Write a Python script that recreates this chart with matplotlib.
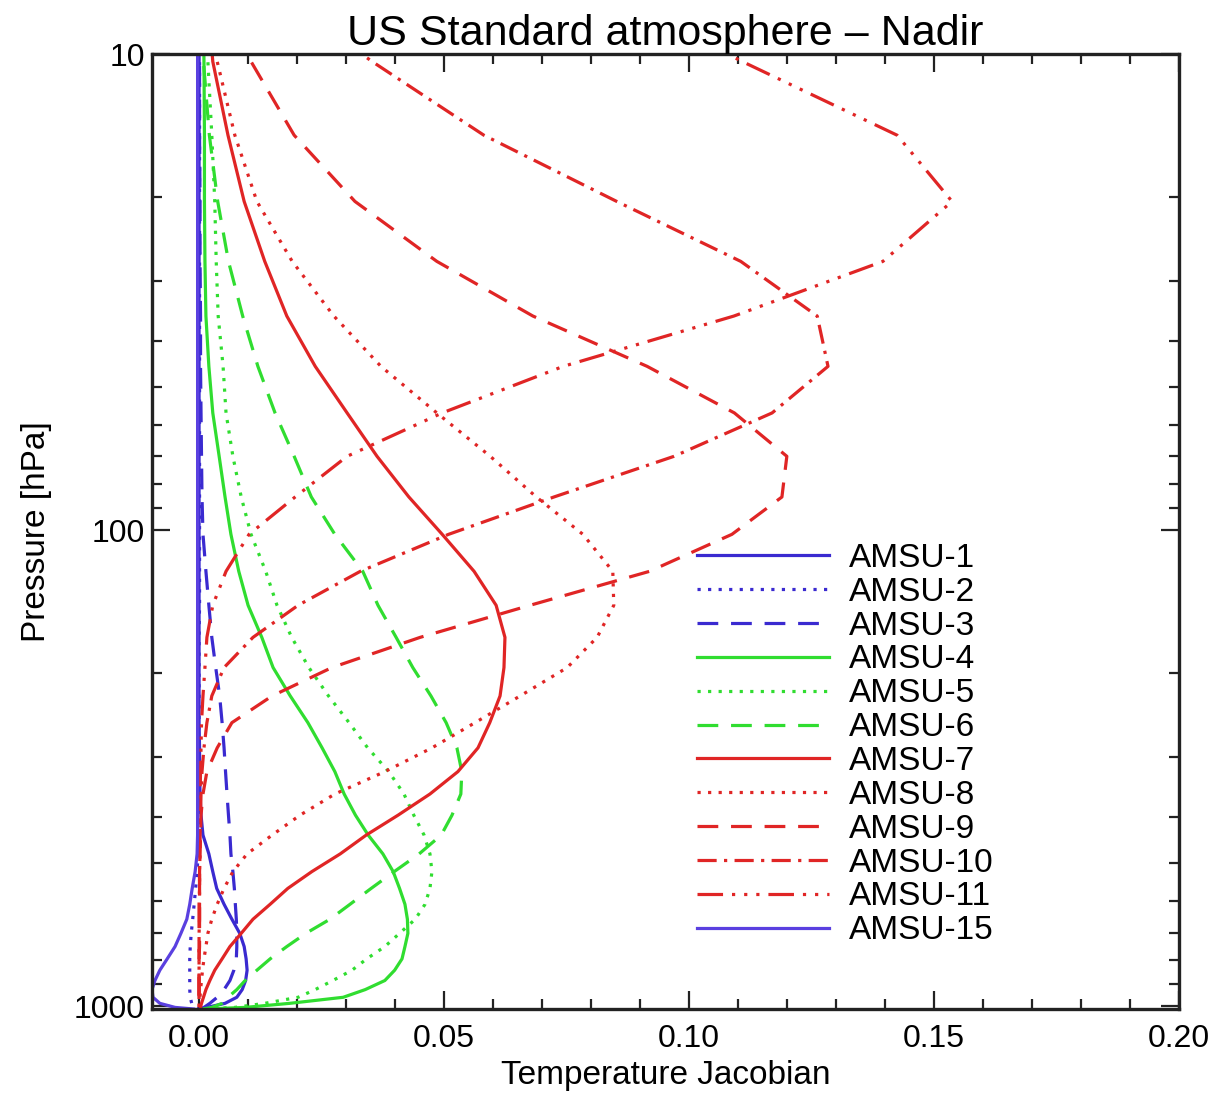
import matplotlib
matplotlib.use('Agg')
import matplotlib.pyplot as plt
from matplotlib.ticker import FixedLocator, NullFormatter, LogLocator

plt.rcParams['font.family'] = ['Liberation Sans', 'DejaVu Sans']

# RTTOV pressure levels (hPa)
pressure = [6.95, 10.37, 14.81, 20.40, 27.26, 35.51, 45.29, 56.73, 69.97, 85.18,
            102.05, 122.04, 143.84, 167.95, 194.36, 222.94, 253.71, 286.60, 321.50,
            358.28, 396.81, 436.95, 478.54, 521.46, 565.54, 610.60, 656.43, 702.73,
            749.12, 795.09, 839.95, 882.80, 922.46, 957.44, 985.88, 1005.43, 1013.25]

amsu1 = [0.0001, 0.0001, 0.0001, 0.0001, 0.0001, 0.0001, 0.0001, 0.0001, 0.0001, 0.0001,
         0.0001, 0.0001, 0.0001, 0.0001, 0.0001, 0.0001, 0.0001, 0.0002, 0.0002, 0.0003,
         0.0005, 0.0009, 0.0021, 0.0029, 0.0037, 0.0052, 0.0068, 0.0084, 0.0093, 0.0097,
         0.0099, 0.0096, 0.0089, 0.0078, 0.0054, 0.0017, 0.0002]
amsu2 = [0.0002, 0.0002, 0.0002, 0.0002, 0.0002, 0.0002, 0.0002, 0.0002, 0.0002, 0.0002,
         0.0002, 0.0002, 0.0002, 0.0001, 0.0001, 0.0001, 0.0001, 0.0000, 0.0000, 0.0000,
         0.0000, 0.0000, -0.0001, -0.0003, -0.0006, -0.0009, -0.0012, -0.0015, -0.0017, -0.0018,
         -0.0018, -0.0018, -0.0018, -0.0017, -0.0014, -0.0008, -0.0002]
amsu3 = [0.0001, 0.0002, 0.0002, 0.0003, 0.0003, 0.0004, 0.0004, 0.0005, 0.0006, 0.0007,
         0.0009, 0.0015, 0.0021, 0.0027, 0.0035, 0.0043, 0.0048, 0.0052, 0.0055, 0.0058,
         0.0061, 0.0064, 0.0066, 0.0070, 0.0073, 0.0075, 0.0077, 0.0078, 0.0078, 0.0077,
         0.0072, 0.0064, 0.0052, 0.0038, 0.0023, 0.0011, 0.0003]
amsu4 = [0.0010, 0.0011, 0.0012, 0.0012, 0.0013, 0.0015, 0.0021, 0.0029, 0.0042, 0.0054,
         0.0066, 0.0082, 0.0101, 0.0129, 0.0152, 0.0187, 0.0223, 0.0252, 0.0278, 0.0297,
         0.0320, 0.0346, 0.0376, 0.0397, 0.0410, 0.0421, 0.0426, 0.0427, 0.0421, 0.0415,
         0.0400, 0.0380, 0.0340, 0.0295, 0.0186, 0.0095, 0.0013]
amsu5 = [0.0015, 0.0019, 0.0027, 0.0033, 0.0036, 0.0040, 0.0050, 0.0056, 0.0070, 0.0087,
         0.0107, 0.0137, 0.0160, 0.0190, 0.0225, 0.0265, 0.0307, 0.0345, 0.0388, 0.0419,
         0.0439, 0.0460, 0.0472, 0.0476, 0.0472, 0.0462, 0.0442, 0.0410, 0.0380, 0.0343,
         0.0313, 0.0274, 0.0238, 0.0203, 0.0135, 0.0074, 0.0013]
amsu6 = [0.0010, 0.0010, 0.0022, 0.0039, 0.0061, 0.0090, 0.0121, 0.0156, 0.0195, 0.0230,
         0.0278, 0.0335, 0.0366, 0.0403, 0.0437, 0.0474, 0.0505, 0.0527, 0.0537, 0.0535,
         0.0517, 0.0495, 0.0450, 0.0399, 0.0352, 0.0309, 0.0268, 0.0219, 0.0180, 0.0146,
         0.0119, 0.0095, 0.0078, 0.0060, 0.0048, 0.0027, 0.0009]
amsu7 = [0.0015, 0.0029, 0.0060, 0.0093, 0.0135, 0.0180, 0.0238, 0.0303, 0.0364, 0.0429,
         0.0497, 0.0562, 0.0607, 0.0625, 0.0623, 0.0615, 0.0594, 0.0570, 0.0529, 0.0472,
         0.0407, 0.0342, 0.0289, 0.0231, 0.0182, 0.0146, 0.0111, 0.0087, 0.0064, 0.0048,
         0.0033, 0.0023, 0.0015, 0.0010, 0.0006, 0.0004, 0.0003]
amsu8 = [0.0020, 0.0038, 0.0074, 0.0119, 0.0191, 0.0276, 0.0372, 0.0486, 0.0595, 0.0689,
         0.0784, 0.0845, 0.0847, 0.0813, 0.0752, 0.0656, 0.0564, 0.0476, 0.0380, 0.0278,
         0.0207, 0.0150, 0.0099, 0.0070, 0.0052, 0.0038, 0.0027, 0.0019, 0.0015, 0.0011,
         0.0008, 0.0006, 0.0004, 0.0003, 0.0002, 0.0001, 0.0001]
amsu9 = [0.0050, 0.0107, 0.0195, 0.0319, 0.0486, 0.0682, 0.0915, 0.1093, 0.1200, 0.1190,
         0.1088, 0.0920, 0.0676, 0.0452, 0.0272, 0.0150, 0.0068, 0.0038, 0.0017, 0.0009,
         0.0005, 0.0004, 0.0003, 0.0002, 0.0002, 0.0002, 0.0002, 0.0002, 0.0002, 0.0001,
         0.0001, 0.0001, 0.0001, 0.0001, 0.0001, 0.0001, 0.0001]
amsu10 = [0.0120, 0.0354, 0.0582, 0.0853, 0.1106, 0.1262, 0.1284, 0.1170, 0.0970, 0.0725,
          0.0510, 0.0330, 0.0203, 0.0111, 0.0052, 0.0027, 0.0017, 0.0011, 0.0007, 0.0005,
          0.0004, 0.0003, 0.0003, 0.0002, 0.0002, 0.0002, 0.0002, 0.0001, 0.0001, 0.0001,
          0.0001, 0.0001, 0.0001, 0.0001, 0.0001, 0.0001, 0.0001]
amsu11 = [0.0780, 0.1109, 0.1425, 0.1537, 0.1396, 0.1092, 0.0744, 0.0497, 0.0303, 0.0197,
          0.0103, 0.0056, 0.0029, 0.0017, 0.0013, 0.0009, 0.0006, 0.0005, 0.0004, 0.0003,
          0.0003, 0.0002, 0.0002, 0.0002, 0.0002, 0.0001, 0.0001, 0.0001, 0.0001, 0.0001,
          0.0001, 0.0001, 0.0001, 0.0001, 0.0001, 0.0001, 0.0001]
amsu15 = [-0.0002, -0.0002, -0.0002, -0.0002, -0.0002, -0.0002, -0.0002, -0.0002, -0.0002, -0.0002,
          -0.0002, -0.0002, -0.0002, -0.0002, -0.0002, -0.0002, -0.0002, -0.0002, -0.0002, -0.0002,
          -0.0002, -0.0002, -0.0003, -0.0007, -0.0013, -0.0018, -0.0024, -0.0036, -0.0048, -0.0064,
          -0.0079, -0.0089, -0.0095, -0.0093, -0.0079, -0.0048, -0.0010]

labels = ['AMSU-1', 'AMSU-2', 'AMSU-3', 'AMSU-4', 'AMSU-5', 'AMSU-6',
          'AMSU-7', 'AMSU-8', 'AMSU-9', 'AMSU-10', 'AMSU-11', 'AMSU-15']
series = [amsu1, amsu2, amsu3, amsu4, amsu5, amsu6,
          amsu7, amsu8, amsu9, amsu10, amsu11, amsu15]

blue = '#3a2ad0'
green = '#30dd30'
red = '#e02525'
dotted = (0, (1.0, 2.3))
dashed = (0, (6.5, 4.0))
dashdot = (0, (6.0, 2.3, 1.0, 2.3))
dashdot3 = (0, (8.0, 2.8, 1.0, 2.8, 1.0, 2.8, 1.0, 2.8))
colors = [blue, blue, blue, green, green, green, red, red, red, red, red, '#5a40e0']
styles = ['-', dotted, dashed, '-', dotted, dashed, '-', dotted, dashed, dashdot, dashdot3, '-']

fig = plt.figure(figsize=(12.13, 10.93), dpi=100)
ax = fig.add_axes([152/1213, 1 - 1009/1093, (1179 - 152)/1213, (1009 - 54)/1093])

for vals, lab, col, ls in zip(series, labels, colors, styles):
    ax.plot(vals, pressure, color=col, linestyle=ls, linewidth=2.3, label=lab)

ax.set_yscale('log')
ax.set_ylim(1013.25, 10)
ax.set_xlim(-0.0095, 0.2)

ax.set_xticks([0.0, 0.05, 0.10, 0.15, 0.20])
ax.set_xticklabels(['0.00', '0.05', '0.10', '0.15', '0.20'])
ax.xaxis.set_minor_locator(FixedLocator([i * 0.01 for i in range(0, 21)]))
ax.yaxis.set_major_locator(FixedLocator([10, 100, 1000]))
ax.set_yticklabels(['10', '100', '1000'])
ax.yaxis.set_minor_locator(LogLocator(base=10, subs=[2, 3, 4, 5, 6, 7, 8, 9]))
ax.yaxis.set_minor_formatter(NullFormatter())

ax.tick_params(which='both', direction='in', top=True, right=True, width=1.6, color='#222222')
ax.tick_params(which='major', length=13)
ax.tick_params(which='minor', length=7)
ax.tick_params(axis='x', labelsize=23, pad=11)
ax.tick_params(axis='y', labelsize=23, pad=5)
for s in ax.spines.values():
    s.set_linewidth(2.4)
    s.set_color('#222222')

ax.set_xlabel('Temperature Jacobian', fontsize=24, labelpad=4)
ax.set_ylabel('Pressure [hPa]', fontsize=24, labelpad=16)
ax.set_title('US Standard atmosphere \u2013 Nadir', fontsize=31, pad=6)

leg = ax.legend(loc='upper left', bbox_to_anchor=(697/1213, 1 - 543/1093),
                bbox_transform=fig.transFigure, frameon=False, fontsize=24,
                handlelength=3.95, handletextpad=0.6, labelspacing=0.085,
                borderpad=0, borderaxespad=0)

fig.savefig('out.png', dpi=100)
